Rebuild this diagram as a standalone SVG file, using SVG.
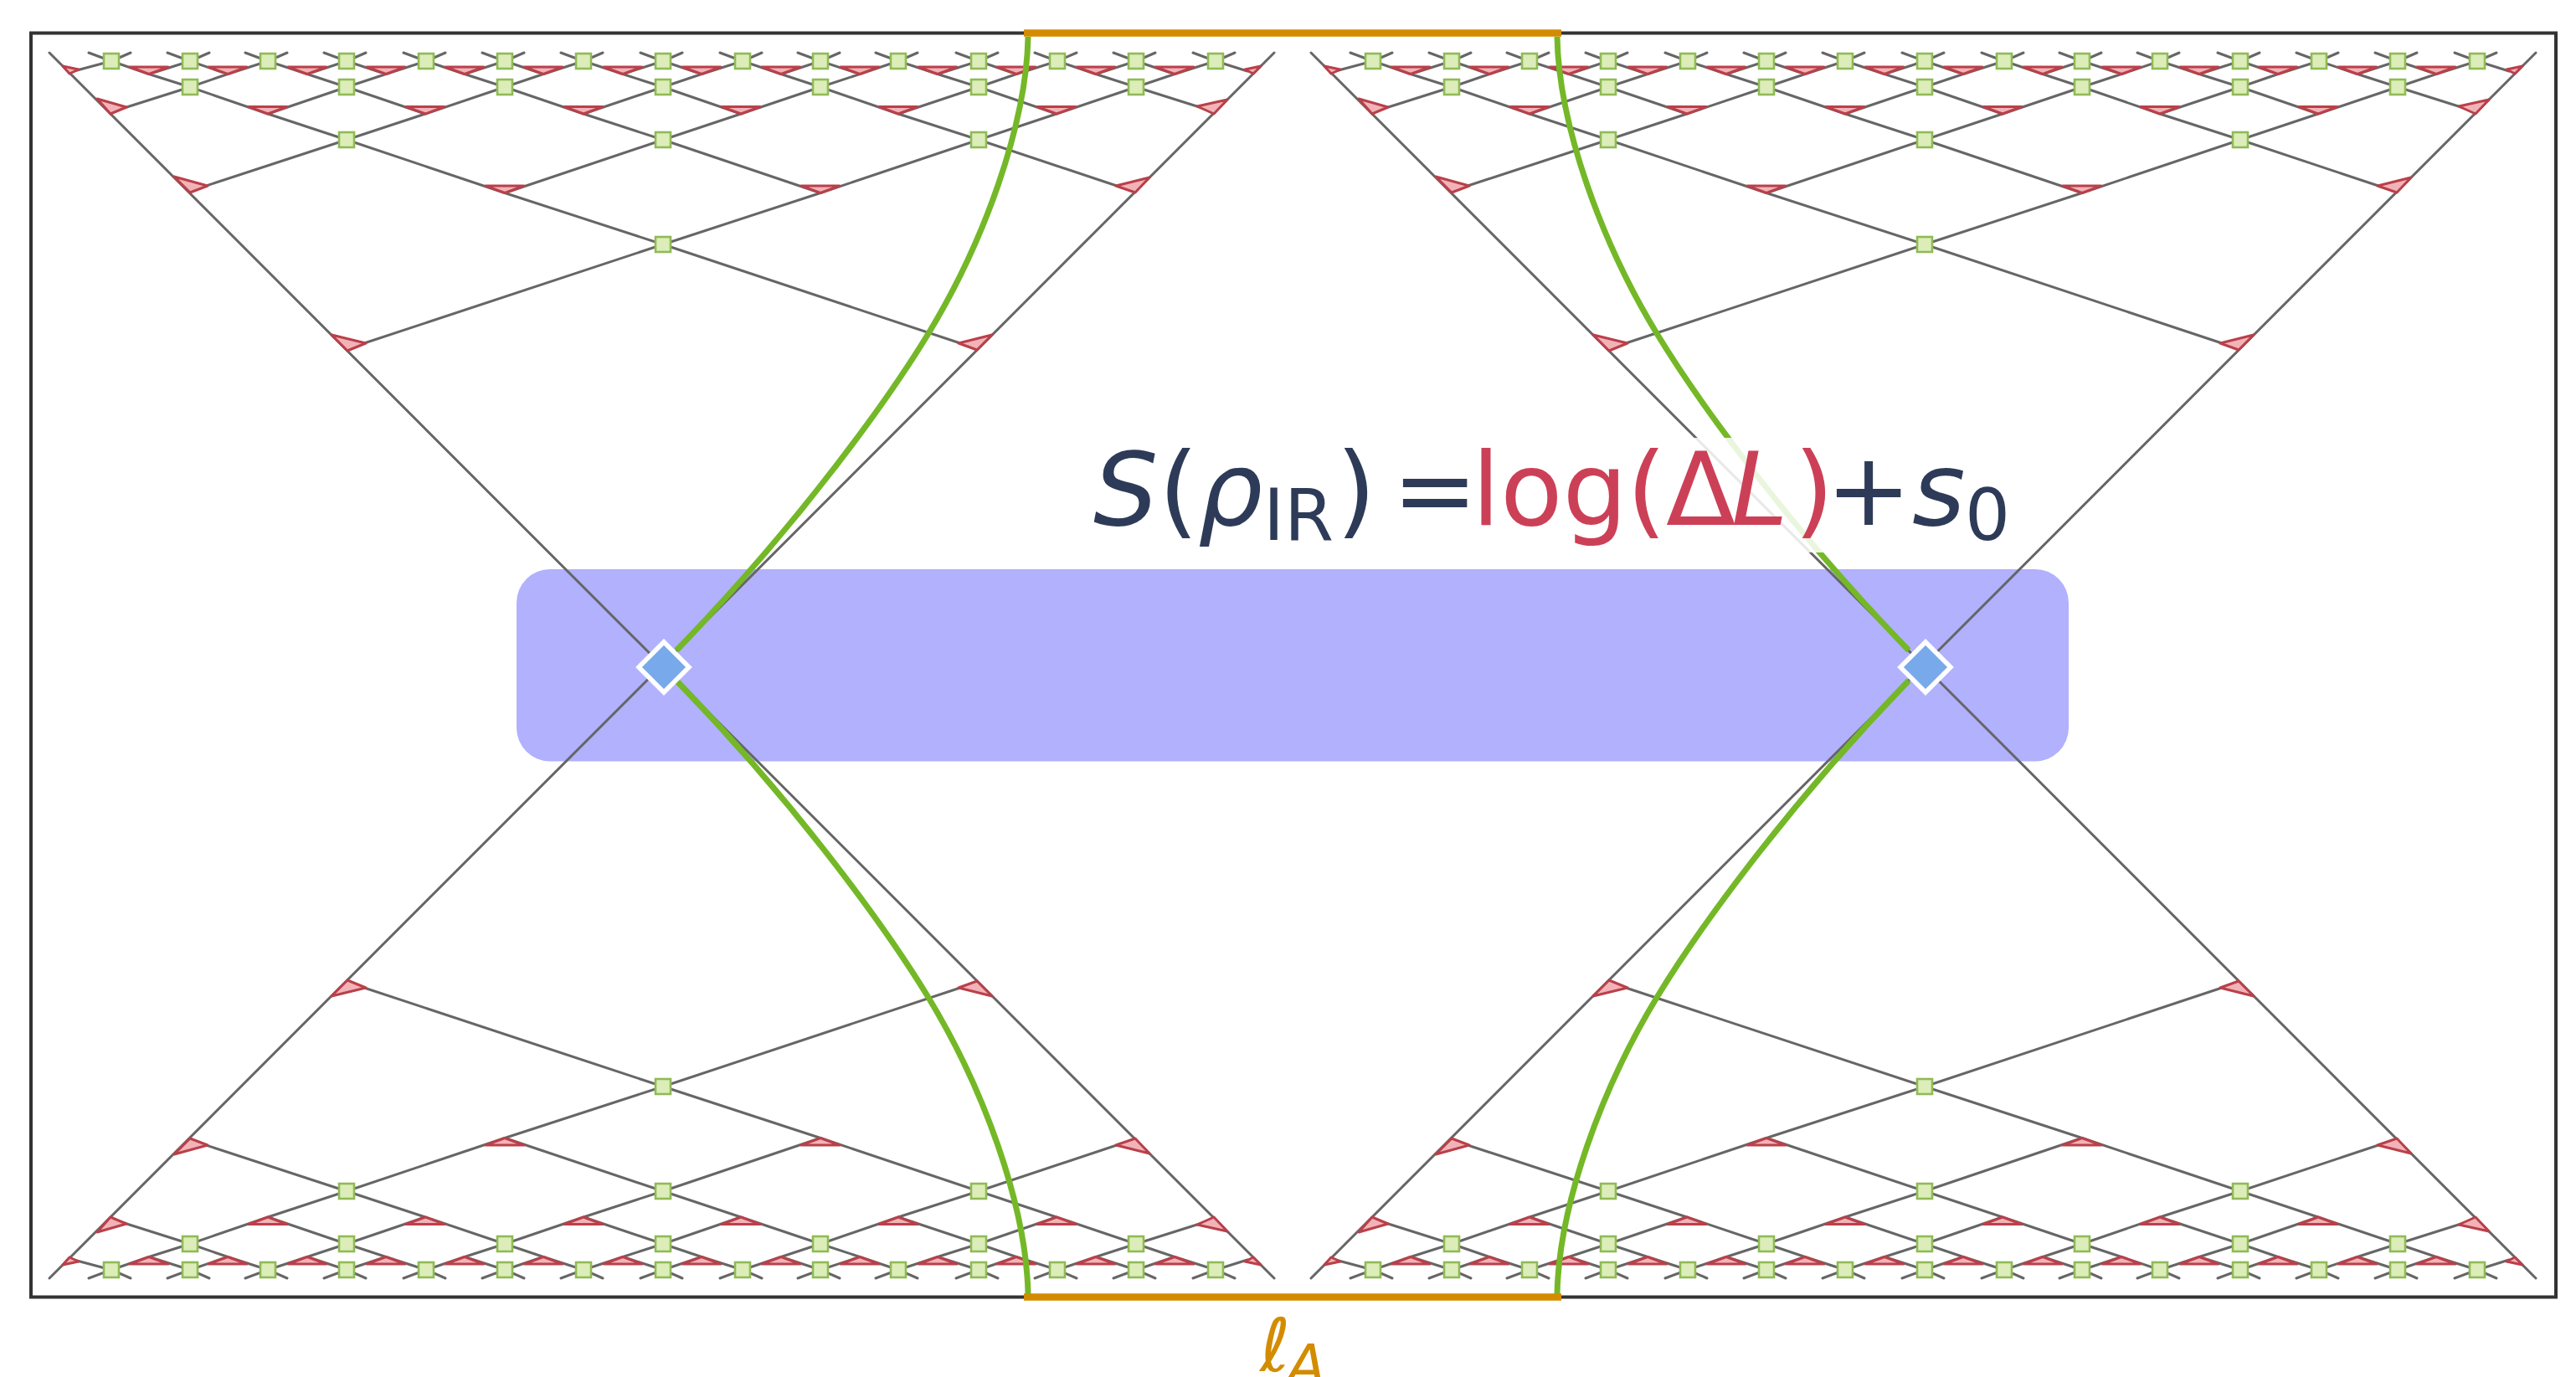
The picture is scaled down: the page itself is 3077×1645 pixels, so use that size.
<svg xmlns="http://www.w3.org/2000/svg" width="3077" height="1645" viewBox="0 0 3077 1645">
<style>
text{font-family:"DejaVu Sans","Liberation Sans",sans-serif}
.wire{fill:none;stroke:#666;stroke-width:3;stroke-linecap:round;stroke-linejoin:round}
.sq{fill:#dcedb9;stroke:#8fbb55;stroke-width:2.600}
.tri{fill:#f2b3b8;stroke:#b9404a;stroke-width:3;stroke-linejoin:round}
.geo{fill:none;stroke:#74b827;stroke-width:7}
.dia{fill:#78a9ea;stroke:#fff;stroke-width:5.500;stroke-linejoin:miter}
.navy{fill:#2e3b58}.red{fill:#cc4057}.it{font-style:italic}
</style>
<defs>
<rect id="s" x="-9" y="-9" width="18" height="18" class="sq"/>
<path id="t" d="M-23,-8.500H23L0,0Z" class="tri"/>
<path id="mera-wires" class="wire" d="M59,63L790.500,795M1522,63L790.500,795
M106,63L133,73L156,63M200,63L227,73L250,63M293,63L320,73L343,63M387,63L414,73L437,63M482,63L509,73L532,63M576,63L603,73L626,63M670,63L697,73L720,63M765,63L792,73L815,63M860,63L887,73L910,63M953,63L980,73L1003,63M1046,63L1073,73L1096,63M1142,63L1169,73L1192,63M1236,63L1263,73L1286,63M1330,63L1357,73L1380,63M1425,63L1452,73L1475,63
M133,73L178,88.500L227,104M227,73L178,88.500M227,73L272,88.500L227,104M320,73L272,88.500M320,73L367,88.500L414,104M414,73L367,88.500M414,73L461,88.500L414,104M509,73L461,88.500M509,73L555,88.500L603,104M603,73L555,88.500M603,73L649,88.500L603,104M697,73L649,88.500M697,73L744,88.500L792,104M792,73L744,88.500M792,73L838,88.500L792,104M887,73L838,88.500M887,73L933,88.500L980,104M980,73L933,88.500M980,73L1027,88.500L980,104M1073,73L1027,88.500M1073,73L1120,88.500L1169,104M1169,73L1120,88.500M1169,73L1214,88.500L1169,104M1263,73L1214,88.500M1263,73L1309,88.500L1357,104M1357,73L1309,88.500M1357,73L1403,88.500L1357,104M1452,73L1403,88.500M133,73L88,85M1452,73L1490,85
M227,104L320,136L414,167M414,104L320,136M414,104L508,136L414,167M603,104L508,136M603,104L697,136L792,167M792,104L697,136M792,104L885,136L792,167M980,104L885,136M980,104L1073,136L1169,167M1169,104L1073,136M1169,104L1262,136L1169,167M1357,104L1262,136M227,104L145,130M1357,104L1436,129
M414,167L603,230.500L792,292M792,167L603,230.500M792,167L980,230.500L792,292M1169,167L980,230.500M414,167L240,224M1169,167L1340,224
M792,292L432,411M792,292L1150,411"/>
<g id="mera-nodes">
<path class="tri" d="M75,79L94,83L83,88ZM1487,83L1506,79L1497,88ZM116,118L151,128L132,136ZM1430,127L1466,119L1450,136ZM208,211L248,222L227,230ZM1333,222L1373,212L1356,230ZM396,400L437,410L415,419ZM1145,410L1185,400L1167,418Z"/>
<use href="#t" x="178" y="88.500"/><use href="#t" x="272" y="88.500"/><use href="#t" x="367" y="88.500"/><use href="#t" x="461" y="88.500"/><use href="#t" x="555" y="88.500"/><use href="#t" x="649" y="88.500"/><use href="#t" x="744" y="88.500"/><use href="#t" x="838" y="88.500"/><use href="#t" x="933" y="88.500"/><use href="#t" x="1027" y="88.500"/><use href="#t" x="1120" y="88.500"/><use href="#t" x="1214" y="88.500"/><use href="#t" x="1309" y="88.500"/><use href="#t" x="1403" y="88.500"/>
<use href="#t" x="320" y="136"/><use href="#t" x="508" y="136"/><use href="#t" x="697" y="136"/><use href="#t" x="885" y="136"/><use href="#t" x="1073" y="136"/><use href="#t" x="1262" y="136"/>
<use href="#t" x="603" y="230.500"/><use href="#t" x="980" y="230.500"/>
<use href="#s" x="133" y="73"/><use href="#s" x="227" y="73"/><use href="#s" x="320" y="73"/><use href="#s" x="414" y="73"/><use href="#s" x="509" y="73"/><use href="#s" x="603" y="73"/><use href="#s" x="697" y="73"/><use href="#s" x="792" y="73"/><use href="#s" x="887" y="73"/><use href="#s" x="980" y="73"/><use href="#s" x="1073" y="73"/><use href="#s" x="1169" y="73"/><use href="#s" x="1263" y="73"/><use href="#s" x="1357" y="73"/><use href="#s" x="1452" y="73"/>
<use href="#s" x="227" y="104"/><use href="#s" x="414" y="104"/><use href="#s" x="603" y="104"/><use href="#s" x="792" y="104"/><use href="#s" x="980" y="104"/><use href="#s" x="1169" y="104"/><use href="#s" x="1357" y="104"/>
<use href="#s" x="414" y="167"/><use href="#s" x="792" y="167"/><use href="#s" x="1169" y="167"/>
<use href="#s" x="792" y="292"/>
</g>
<path id="geo" class="geo" d="M1228,44C1226,150 1175,290 1108,400C1064,472 960,620 808,777"/>
</defs>
<rect id="background" width="3077" height="1645" fill="#fff"/>
<rect id="frame" x="37" y="39.500" width="3016" height="1510" fill="none" stroke="#333" stroke-width="4"/>
<rect id="ir-band" x="617" y="680" width="1854" height="229.500" rx="40" fill="#b1b1fd"/>
<g id="connectors">
<use href="#mera-wires"/>
<use href="#mera-wires" transform="translate(1507,0)"/>
<use href="#mera-wires" transform="matrix(1,0,0,-1,0,1590)"/>
<use href="#mera-wires" transform="matrix(1,0,0,-1,1507,1590)"/>
</g>
<g id="network-top-left"><use href="#mera-nodes"/></g>
<g id="network-top-right"><use href="#mera-nodes" transform="translate(1507,0)"/></g>
<g id="network-bottom-left"><use href="#mera-nodes" transform="matrix(1,0,0,-1,0,1590)"/></g>
<g id="network-bottom-right"><use href="#mera-nodes" transform="matrix(1,0,0,-1,1507,1590)"/></g>
<g id="geodesics">
<use href="#geo"/>
<use href="#geo" transform="matrix(-1,0,0,1,3088,0)"/>
<use href="#geo" transform="matrix(1,0,0,-1,0,1590)"/>
<use href="#geo" transform="matrix(-1,0,0,-1,3088,1590)"/>
</g>
<g id="boundary-interval" stroke="#d38c00" stroke-width="8.500">
<path d="M1223,39.500H1865M1223,1549.500H1865" fill="none"/>
</g>
<g id="node-ir-left"><path class="dia" d="M793,767L823,797L793,827L763,797Z"/></g>
<g id="node-ir-right"><path class="dia" d="M2300,767L2330,797L2300,827L2270,797Z"/></g>
<g id="formula">
<rect x="1290" y="523" width="1120" height="137" fill="#fff" fill-opacity=".85"/>
<text font-size="122" y="627"><tspan class="navy it" x="1306">S</tspan><tspan class="navy" x="1384">(</tspan><tspan class="navy it" x="1431">ρ</tspan><tspan class="navy" x="1509" y="645" font-size="85">IR</tspan><tspan class="navy" x="1596" y="627">) </tspan><tspan class="navy" x="1663">=</tspan><tspan class="red" x="1758">log</tspan><tspan class="red" x="1943">(</tspan><tspan class="red" x="1990">Δ</tspan><tspan class="red it" x="2068">L</tspan><tspan class="red" x="2143">)</tspan><tspan class="navy" x="2181">+</tspan><tspan class="navy it" x="2284">s</tspan><tspan class="navy" x="2347" y="645" font-size="85">0</tspan></text>
</g>
<g id="label-interval">
<text fill="#d38c00" font-size="88" y="1638"><tspan class="it" x="1505">ℓ</tspan><tspan class="it" x="1537" y="1655" font-size="68">A</tspan></text>
</g>
</svg>
